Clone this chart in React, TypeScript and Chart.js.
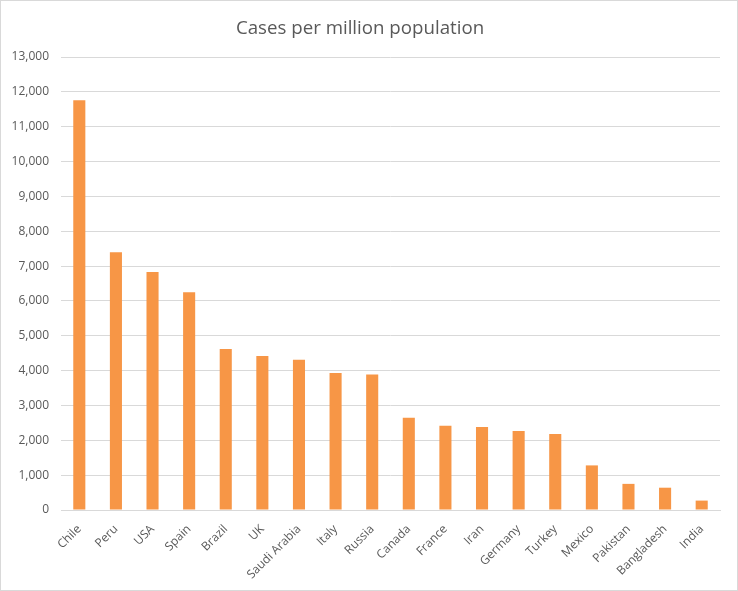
import React, { useEffect, useRef } from 'react';
import { Chart, registerables } from 'chart.js';

Chart.register(...registerables);

const countries = [
  'Chile', 'Peru', 'USA', 'Spain', 'Brazil', 'UK', 'Saudi Arabia', 'Italy', 'Russia',
  'Canada', 'France', 'Iran', 'Germany', 'Turkey', 'Mexico', 'Pakistan', 'Bangladesh', 'India',
];
const casesPerMillion = [
  11760, 7400, 6830, 6250, 4620, 4420, 4310, 3930, 3890,
  2650, 2420, 2380, 2270, 2180, 1280, 750, 640, 270,
];
const titleText = 'Cases per million population';
const yMin = 0;
const yMax = 13000;
const yStep = 1000;

const FONT = 'Open Sans';
const TEXT = '#595959';
const GRID = '#d9d9d9';

const borderPlugin = {
  id: 'outerBorder',
  beforeDraw(chart: any) {
    const { ctx, width, height } = chart;
    ctx.save();
    ctx.fillStyle = '#ffffff';
    ctx.fillRect(0, 0, width, height);
    ctx.strokeStyle = '#d9d9d9';
    ctx.lineWidth = 1;
    ctx.strokeRect(0.5, 0.5, width - 1, height - 1);
    ctx.restore();
  },
};

export default function App() {
  const ref = useRef<HTMLCanvasElement>(null);
  useEffect(() => {
    document.body.style.margin = '0';
    const chart = new Chart(ref.current as HTMLCanvasElement, {
      type: 'bar',
      data: {
        labels: countries,
        datasets: [
          {
            data: casesPerMillion,
            backgroundColor: '#F79646',
            categoryPercentage: 1,
            barPercentage: 0.33,
          },
        ],
      },
      options: {
        responsive: false,
        animation: false,
        layout: { padding: { left: 0, right: 18, top: 0, bottom: 0 } },
        plugins: {
          legend: { display: false },
          tooltip: { enabled: false },
          title: {
            display: true,
            text: titleText,
            color: TEXT,
            font: { family: FONT, size: 18.7, weight: 'normal' as any, lineHeight: 1.2 },
            padding: { top: 17, bottom: 17.6 },
          },
        },
        scales: {
          x: {
            grid: { display: false },
            border: { display: true, color: GRID },
            ticks: {
              color: TEXT,
              font: { family: FONT, size: 12 },
              maxRotation: 45,
              minRotation: 45,
              autoSkip: false,
              padding: 4,
            },
            afterFit: (s: any) => {
              s.height = 81;
            },
          },
          y: {
            min: yMin,
            max: yMax,
            ticks: {
              stepSize: yStep,
              color: TEXT,
              font: { family: FONT, size: 12 },
              padding: 12,
              callback: (v: any) => Number(v).toLocaleString('en-US'),
            },
            grid: { color: GRID, drawTicks: false },
            border: { display: false },
            afterFit: (s: any) => {
              s.width = 61;
            },
          },
        },
      },
      plugins: [borderPlugin],
    });
    return () => chart.destroy();
  }, []);
  return <canvas ref={ref} width={738} height={591} style={{ display: 'block' }} />;
}
